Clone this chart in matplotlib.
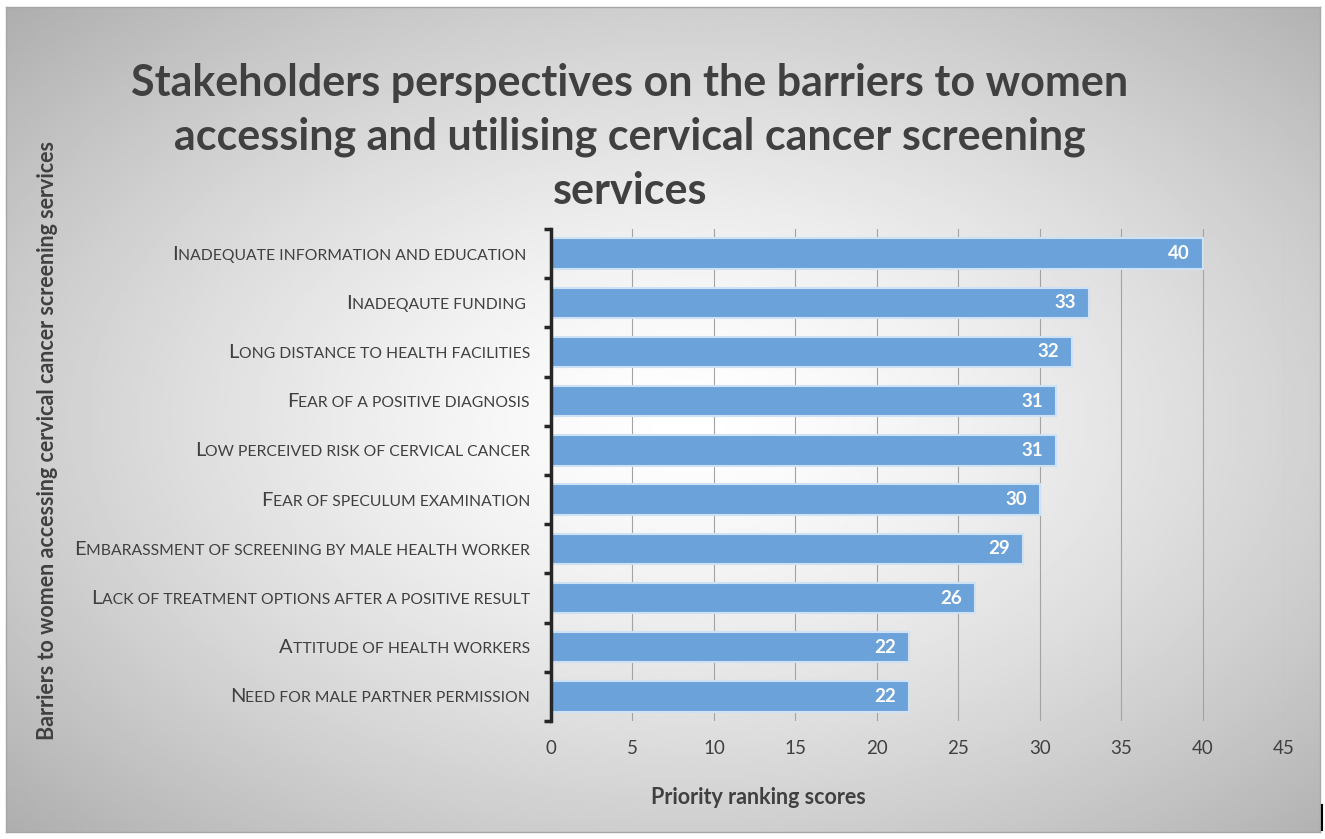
import matplotlib.pyplot as plt
import numpy as np
from matplotlib import transforms

plt.rcParams['font.family'] = ['Lato', 'DejaVu Sans']

# data (top to bottom)
barriers = [
    "Inadequate information and education ",
    "Inadeqaute funding ",
    "Long distance to health facilities",
    "Fear of a positive diagnosis",
    "Low perceived risk of cervical cancer",
    "Fear of speculum examination",
    "Embarassment of screening by male health worker",
    "Lack of treatment options after a positive result",
    "Attitude of health workers",
    "Need for male partner permission",
]
scores = [40, 33, 32, 31, 31, 30, 29, 26, 22, 22]
x_ticks = [0, 5, 10, 15, 20, 25, 30, 35, 40, 45]

title = ("Stakeholders perspectives on the barriers to women\n"
         "accessing and utilising cervical cancer screening\n"
         "services")
x_title = "Priority ranking scores"
y_title = "Barriers to women accessing cervical cancer screening services"

W, H = 1325, 839
txt_col = '#404040'

fig = plt.figure(figsize=(W / 100, H / 100), dpi=100)
fig.patch.set_facecolor('white')

# gray radial gradient backdrop
bg = fig.add_axes([6 / W, 7 / H, (1320 - 6) / W, (832 - 7) / H])
yy, xx = np.mgrid[0:1:300j, 0:1:500j]
d = np.sqrt(((xx - 0.52) / 0.5) ** 2 + ((yy - 0.5) / 0.5) ** 2)
shade = np.clip(1 - 0.19 * d ** 1.4, 0, 1)
bg.imshow(shade, cmap='gray', vmin=0, vmax=1, extent=[0, 1, 0, 1],
          aspect='auto', interpolation='bilinear')
bg.set_xticks([])
bg.set_yticks([])
for s in bg.spines.values():
    s.set_color('#a6a6a6')
    s.set_linewidth(1)

# main plot
ax = fig.add_axes([551 / W, (H - 721) / H, (1284 - 551) / W, (721 - 229) / H])
ax.patch.set_alpha(0)
n = len(barriers)
pos = np.arange(n)
ax.barh(pos, scores, height=0.62, color='#6ca2da', edgecolor='#cfe1f4',
        linewidth=1.5, zorder=3)
ax.set_xlim(0, 45)
ax.set_ylim(n - 0.5, -0.5)
ax.set_xticks(x_ticks)
ax.set_xticklabels([str(t) for t in x_ticks], fontsize=13.5, color=txt_col)
ax.tick_params(axis='x', length=0, pad=14)
ax.set_yticks(np.arange(-0.5, n, 1))
ax.set_yticklabels([])
ax.tick_params(axis='y', direction='out', length=5, width=2.5, color='#262626')
ax.grid(axis='x', color='#a3a3a3', linewidth=0.8, zorder=0)
for k in ['top', 'right', 'bottom']:
    ax.spines[k].set_visible(False)
ax.spines['left'].set_color('#262626')
ax.spines['left'].set_linewidth(2.5)
ax.spines['left'].set_zorder(4)

for i, v in enumerate(scores):
    ax.annotate(str(v), (v, i), xytext=(-13, 0), textcoords='offset pixels',
                ha='right', va='center', color='white', fontsize=13.5,
                fontweight='bold', zorder=5)

# small caps category labels
rest_texts = []
for i, lab in enumerate(barriers):
    tr = transforms.offset_copy(ax.get_yaxis_transform(), fig=fig,
                                x=-21, y=-6, units='dots')
    t = ax.text(0, i, lab[1:].upper(), transform=tr, ha='right',
                va='baseline', fontsize=11.3, color=txt_col)
    rest_texts.append(t)
fig.canvas.draw()
rend = fig.canvas.get_renderer()
for i, lab in enumerate(barriers):
    w = rest_texts[i].get_window_extent(rend).width
    tr = transforms.offset_copy(ax.get_yaxis_transform(), fig=fig,
                                x=-21 - w, y=-6, units='dots')
    ax.text(0, i, lab[0], transform=tr, ha='right', va='baseline',
            fontsize=14.5, color=txt_col)

fig.text(630 / W, 1 - 137 / H, title, ha='center', va='center',
         multialignment='center', fontsize=31, fontweight='bold',
         color=txt_col, linespacing=1.42)
fig.text(758 / W, 1 - 798 / H, x_title, ha='center', va='center',
         fontsize=15.5, fontweight='bold', color=txt_col)
fig.text(48 / W, 1 - 440 / H, y_title, ha='center', va='center',
         rotation=90, fontsize=15.5, fontweight='bold', color=txt_col)

# small dark mark at the lower right edge
fig.add_artist(plt.Line2D([1322 / W, 1322 / W], [1 - 830 / H, 1 - 805 / H],
                          color='black', linewidth=1.5))

fig.savefig('out.png', dpi=100)
